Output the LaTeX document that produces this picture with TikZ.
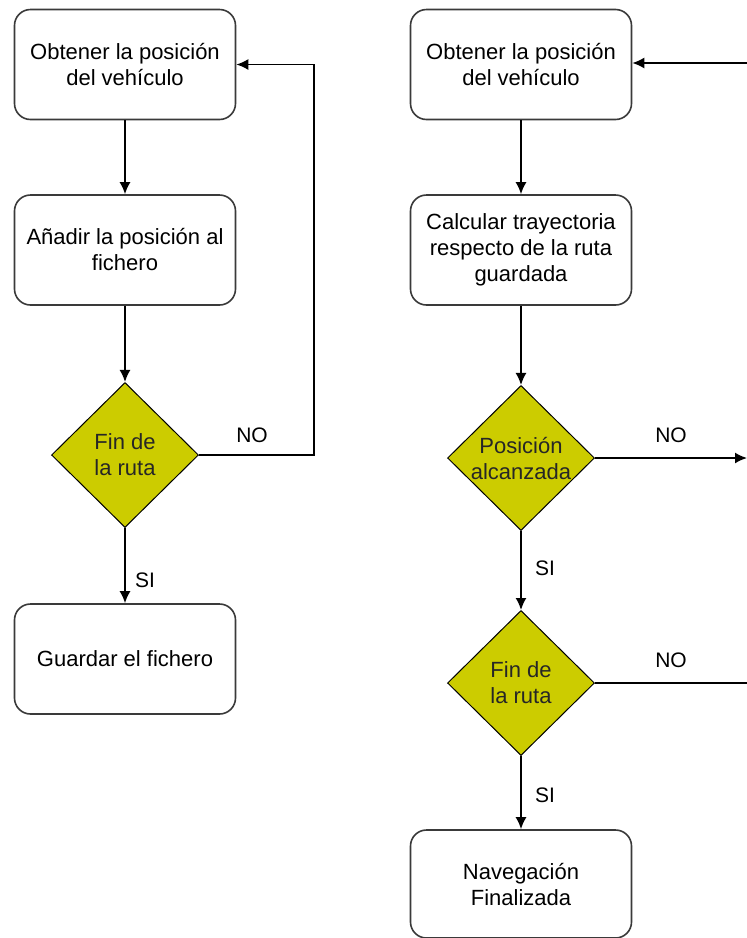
\documentclass[tikz,border=0pt]{standalone}
\usepackage{fontspec}
\setmainfont{Liberation Sans}
\usetikzlibrary{shapes.geometric,arrows.meta}
\definecolor{boxline}{HTML}{3A3A3A}
\definecolor{decfill}{HTML}{CCCC00}
\begin{document}
\begin{tikzpicture}[x=1pt,y=-1pt,
  every node/.style={font=\fontsize{22}{26}\selectfont, align=center},
  stepbox/.style={draw=boxline, line width=1.6pt, rounded corners=16pt, fill=white,
    minimum width=221pt, minimum height=110pt, inner sep=0pt},
  decision/.style={draw=black, line width=1pt, fill=decfill, diamond, aspect=1,
    minimum width=147pt, minimum height=145pt, inner sep=0pt, text=black!85},
  flow/.style={draw=black, line width=1.7pt, -{Latex[length=12pt,width=11pt]}},
  plain/.style={draw=black, line width=1.7pt},
  lbl/.style={font=\fontsize{21}{24}\selectfont}]
\useasboundingbox (0,0) rectangle (747,938);

% left column: route recording
\node[stepbox] (l1) at (125,64.5) {Obtener la posición\\del vehículo};
\node[stepbox] (l2) at (125,250) {Añadir la posición al\\fichero};
\node[decision] (ld) at (125,455) {Fin de\\la ruta};
\node[stepbox] (l3) at (125,659) {Guardar el fichero};
\coordinate (lc) at (314,455);

\draw[flow] (l1) -- (l2);
\draw[flow] (l2) -- (ld);
\draw[flow] (ld) -- (l3);
\draw[flow] (ld.east) -- (lc) |- (l1.east);
\node[lbl] (lno) at (252,435) {NO};
\node[lbl] (lsi) at (145,580) {SI};

% right column: navigation along the stored route
\node[stepbox] (r1) at (521,64.5) {Obtener la posición\\del vehículo};
\node[stepbox] (r2) at (521,250) {Calcular trayectoria\\respecto de la ruta\\guardada};
\node[decision] (rd1) at (521,458) {Posición\\alcanzada};
\node[decision] (rd2) at (521,683) {Fin de\\la ruta};
\node[stepbox, minimum height=108pt] (r3) at (521,884) {Navegación\\Finalizada};
\coordinate (re1) at (747,458);
\coordinate (re2) at (748,683);
\coordinate (re0) at (748,63);

\draw[flow] (r1) -- (r2);
\draw[flow] (r2) -- (rd1);
\draw[flow] (rd1) -- (rd2);
\draw[flow] (rd2) -- (r3);
\draw[flow] (rd1.east) -- (re1);
\draw[plain] (rd2.east) -- (re2);
\draw[flow] (re0) -- (re0 -| r1.east);
\node[lbl] (rno1) at (671,435) {NO};
\node[lbl] (rsi1) at (545,568) {SI};
\node[lbl] (rno2) at (671,660) {NO};
\node[lbl] (rsi2) at (545,795) {SI};
\end{tikzpicture}
\end{document}
